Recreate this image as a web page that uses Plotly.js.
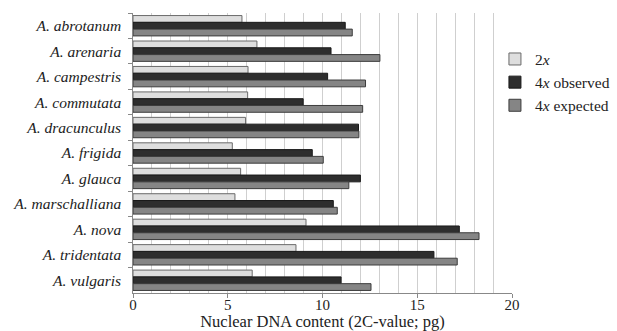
<!DOCTYPE html>
<html>
<head>
<meta charset="utf-8">
<script src="https://cdn.plot.ly/plotly-3.0.1.min.js"></script>
<style>html,body{margin:0;padding:0;background:#fff;}#chart{width:617px;height:331px;}</style>
</head>
<body>
<div id="chart"></div>
<script>
const species = ["A. abrotanum","A. arenaria","A. campestris","A. commutata","A. dracunculus","A. frigida","A. glauca","A. marschalliana","A. nova","A. tridentata","A. vulgaris"];
const val2x = [5.75,6.54,6.07,6.05,5.94,5.24,5.68,5.38,9.13,8.6,6.29];
const val4xObserved = [11.2,10.45,10.27,8.98,11.9,9.46,12.0,10.57,17.22,15.88,10.98];
const val4xExpected = [11.57,13.03,12.27,12.12,11.92,10.04,11.39,10.78,18.26,17.11,12.56];
const seriesNames = ["2<i>x</i>","4<i>x</i> observed","4<i>x</i> expected"];
const xTicks = [0,5,10,15,20];

const fills = ["#dedede","#2e2e2e","#858585"];
const lines = ["#6a6a6a","#1a1a1a","#3c3c3c"];
const series = [val2x,val4xObserved,val4xExpected];
const traces = series.map((v,i)=>({
  type:"bar", orientation:"h", name:seriesNames[i],
  y:species, x:v,
  marker:{color:fills[i], line:{color:lines[i], width:1}}
}));

const layout = {
  width:617, height:331,
  margin:{l:133, r:105, t:13, b:38, autoexpand:false},
  paper_bgcolor:"#fff", plot_bgcolor:"#fff",
  font:{family:"Liberation Serif, Times New Roman, serif", color:"#222"},
  barmode:"group", bargap:0.2, bargroupgap:0,
  showlegend:true,
  legend:{x:0.955, xanchor:"left", y:0.895, yanchor:"top", font:{size:15.5, color:"#222"}, tracegroupgap:0, itemwidth:30, bgcolor:"rgba(0,0,0,0)"},
  xaxis:{
    range:[0,20], tickvals:xTicks, ticktext:xTicks.map(String),
    showgrid:false, zeroline:false,
    showline:true, linecolor:"#888", linewidth:1,
    ticks:"outside", ticklen:4, tickcolor:"#888",
    ticklabelstandoff:-6,
    tickfont:{size:15, color:"#222"},
    minor:{dtick:1, showgrid:true, gridcolor:"#cfcfcf", gridwidth:1, ticks:""},
    title:{text:"Nuclear DNA content (2C-value; pg)", font:{size:16.5, color:"#222"}, standoff:0}
  },
  yaxis:{
    autorange:"reversed", type:"category",
    showline:true, linecolor:"#888", linewidth:1,
    ticks:"outside", tickson:"boundaries", ticklen:4, tickcolor:"#888",
    tickfont:{size:15.5, color:"#222", style:"italic"},
    showgrid:false, zeroline:false, ticksuffix:"  "
  }
};
Plotly.newPlot("chart", traces, layout, {displayModeBar:false, staticPlot:true});
</script>
</body>
</html>
